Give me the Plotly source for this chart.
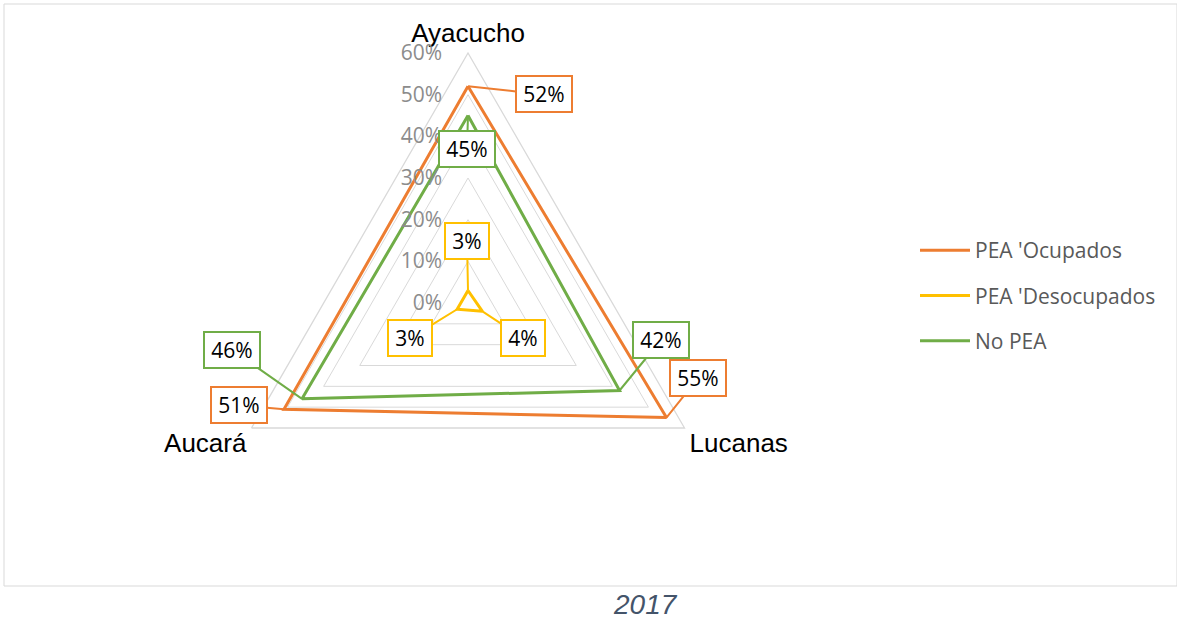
import math
import plotly.graph_objects as go

# ---- data ----
categories = ["Ayacucho", "Lucanas", "Aucará"]
series_names = ["PEA 'Ocupados", "PEA 'Desocupados", "No PEA"]
ocupados = [0.52, 0.55, 0.51]
desocupados = [0.03, 0.04, 0.03]
no_pea = [0.45, 0.42, 0.46]
radial_ticks = [0, 0.1, 0.2, 0.3, 0.4, 0.5, 0.6]
footer_text = "2017"

colors = ["#ED7D31", "#FFC000", "#70AD47"]
all_values = [ocupados, desocupados, no_pea]

W, H = 1177, 620
CX, CY, R = 468, 303, 250  # polar centre / radius in pixels
RMAX = 0.6

fig = go.Figure()
for i, (name, vals) in enumerate(zip(series_names, all_values)):
    fig.add_trace(go.Scatterpolar(
        r=vals + [vals[0]],
        theta=categories + [categories[0]],
        mode="lines",
        name=name,
        legendgroup=f"g{i}",
        line=dict(color=colors[i], width=3),
        hoverinfo="skip",
    ))

# label offsets (pixels from the data point to the callout box centre)
offsets = [
    [(76, 8), (32, -40), (-45, -4)],
    [(-1, -50), (41, 27), (-47, 29)],
    [(-1, 33), (41, -50), (-70, -49)],
]
angles = {c: k * 120 for k, c in enumerate(categories)}

annotations = []
for i, vals in enumerate(all_values):
    for j, (cat, v) in enumerate(zip(categories, vals)):
        th = math.radians(angles[cat])
        rp = v / RMAX * R
        px = CX + rp * math.sin(th)
        py = CY - rp * math.cos(th)
        txt = f"{round(v*100):d}%"
        ax, ay = offsets[i][j]
        annotations.append(dict(
            x=px / W, y=1 - py / H, xref="paper", yref="paper",
            text=txt, showarrow=True, ax=ax, ay=ay,
            arrowhead=0, arrowwidth=2, arrowcolor=colors[i], standoff=0,
            font=dict(family="Open Sans", size=21, color="#000000"),
            bgcolor="#FFFFFF", bordercolor=colors[i], borderwidth=2,
            borderpad=3, width=48 if len(txt) > 2 else 36, height=28,
        ))

annotations.append(dict(
    x=645 / W, y=1 - 604 / H, xref="paper", yref="paper",
    xanchor="center", yanchor="middle",
    text=f"<i>{footer_text}</i>", showarrow=False,
    font=dict(family="Liberation Sans", size=28, color="#44546A"),
))

fig.update_layout(
    width=W, height=H,
    margin=dict(l=0, r=0, t=0, b=0),
    paper_bgcolor="#FFFFFF",
    polar=dict(
        domain=dict(x=[(CX - R) / W, (CX + R) / W],
                    y=[(H - CY - R) / H, (H - CY + R) / H]),
        gridshape="linear",
        bgcolor="#FFFFFF",
        radialaxis=dict(
            range=[0, RMAX], tickvals=radial_ticks, tickformat=".0%",
            angle=90, side="counterclockwise", showline=False,
            ticks="outside", ticklen=18, tickcolor="rgba(0,0,0,0)",
            tickangle=90,
            gridcolor="#D9D9D9", gridwidth=1.3,
            tickfont=dict(family="Open Sans", size=21, color="#8C8C8C"),
        ),
        angularaxis=dict(
            rotation=90, direction="clockwise",
            showline=True, linecolor="#D9D9D9", linewidth=1.3,
            showgrid=False, ticks="",
            tickfont=dict(family="Liberation Sans", size=26, color="#000000"),
        ),
    ),
    legend=dict(
        x=915 / W, y=1 - 230 / H, xanchor="left", yanchor="top",
        font=dict(family="Open Sans", size=21, color="#595959"),
        tracegroupgap=15, itemwidth=50, bgcolor="rgba(0,0,0,0)",
    ),
    shapes=[dict(type="rect", xref="paper", yref="paper",
                 x0=4 / W, x1=1.0, y0=1 - 586 / H, y1=1 - 4 / H,
                 line=dict(color="#D9D9D9", width=1), layer="below")],
    annotations=annotations,
)

fig.write_html("out.html", config={"displayModeBar": False},
               post_script="document.body.style.margin='0px';")
